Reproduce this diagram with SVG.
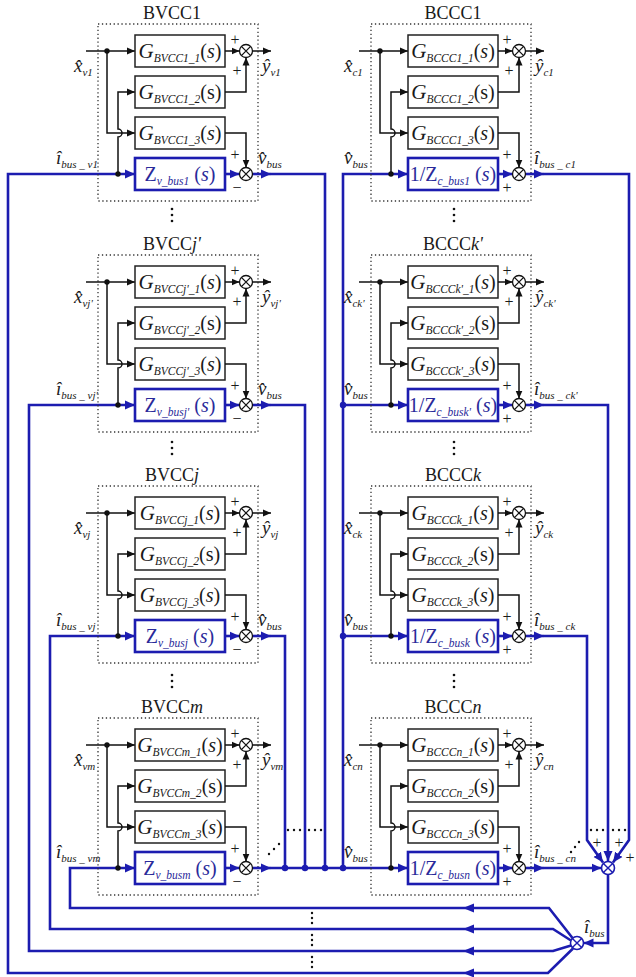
<svg xmlns="http://www.w3.org/2000/svg" xmlns:xlink="http://www.w3.org/1999/xlink" width="636" height="977" viewBox="0 0 636 977">
<style>
.wk{fill:none;stroke:#111;stroke-width:1.5}
.wb{fill:none;stroke:#1c1cb0;stroke-width:2.6}
.box{fill:#fff;stroke:#222;stroke-width:1.5}
.zbox{fill:#fff;stroke:#1c1cb0;stroke-width:2.6}
.dbox{fill:none;stroke:#333;stroke-width:1.3;stroke-dasharray:1.3 2.6}
.sum{fill:#fff;stroke:#111;stroke-width:1.3}
.sumb{fill:#fff;stroke:#1c1cb0;stroke-width:1.6}
.x{fill:none;stroke:#111;stroke-width:1.3}
.xb{fill:none;stroke:#1c1cb0;stroke-width:1.4}
text{font-family:"Liberation Serif","Times New Roman",serif;fill:#1a1a1a}
.title{font-size:18px;text-anchor:middle}
.gl{font-size:20px;text-anchor:middle}
.zl{fill:#2a2a9a}
.G{font-style:italic;font-size:21px}
.sb{font-style:italic;font-size:11.5px}
.i{font-style:italic}
.lb{font-size:19px;font-style:italic}
.ls{font-size:11px}
.sg{font-size:16px;text-anchor:middle}
.dk{fill:#111}
.db{fill:#1c1cb0}
</style>
<defs>
<marker id="ak" markerWidth="9" markerHeight="8" refX="8" refY="4" orient="auto" markerUnits="userSpaceOnUse"><path d="M0,0.5 L8,4 L0,7.5 z" fill="#111"/></marker>
<marker id="ab" markerWidth="11" markerHeight="10" refX="10" refY="5" orient="auto" markerUnits="userSpaceOnUse"><path d="M0,0.5 L10,5 L0,9.5 z" fill="#1c1cb0"/></marker>
<g id="frame">
<rect class="dbox" x="98" y="-27" width="160" height="177"/>
<path class="wk" d="M86,0 H135" marker-end="url(#ak)"/>
<path class="wk" d="M107,0 V82 H135" marker-end="url(#ak)"/>
<path class="wk" d="M118,123 V86 A4,4 0 0 0 118,78 V41 H135" marker-end="url(#ak)"/>
<rect class="box" x="135" y="-16" width="90" height="32"/>
<rect class="box" x="135" y="25" width="90" height="32"/>
<rect class="box" x="135" y="66" width="90" height="32"/>
<rect class="zbox" x="135" y="107" width="90" height="32"/>
<circle class="dk" cx="107" cy="0" r="2.7"/>
<circle class="dk" cx="118" cy="123" r="2.7"/>
<path class="wk" d="M225,0 H239.5" marker-end="url(#ak)"/>
<path class="wk" d="M252.5,0 H271" marker-end="url(#ak)"/>
<path class="wk" d="M225,41 H246 V6.5" marker-end="url(#ak)"/>
<path class="wk" d="M225,82 H246 V116.5" marker-end="url(#ak)"/>
<path class="wb" d="M225,123 H239.5" marker-end="url(#ab)"/>
<path class="wb" d="M252.5,123 H271" marker-end="url(#ab)"/>
<circle class="sum" cx="246" cy="0" r="6.5"/>
<path class="x" d="M241.4,-4.6 L250.6,4.6 M241.4,4.6 L250.6,-4.6"/>
<circle class="sum" cx="246" cy="123" r="6.5"/>
<path class="x" d="M241.4,118.4 L250.6,127.6 M241.4,127.6 L250.6,118.4"/>
</g>
</defs>
<rect width="636" height="977" fill="#fff"/>

<g id="connectors">
<path class="wb" d="M573,948.5 L548,973 H8 V174 H135" marker-end="url(#ab)"/>
<path class="wb" d="M571,945.5 L553,951 H29 V405 H135" marker-end="url(#ab)"/>
<path class="wb" d="M571,940.5 L553,929 H50 V636 H135" marker-end="url(#ab)"/>
<path class="wb" d="M572.5,938 L549,908 H70 V868 H135" marker-end="url(#ab)"/>
<g class="db">
<polygon points="463,973 474,968.5 474,977.5"/>
<polygon points="463,951 474,946.5 474,955.5"/>
<polygon points="463,929 474,924.5 474,933.5"/>
<polygon points="463,908 474,903.5 474,912.5"/>
</g>
<path class="wb" d="M271,174 H325 V868"/>
<path class="wb" d="M271,405 H305 V868"/>
<path class="wb" d="M271,636 H285 V868"/>
<path class="wb" d="M271,868 H408" marker-end="url(#ab)"/>
<path class="wb" d="M343,868 V174 H408" marker-end="url(#ab)"/>
<path class="wb" d="M343,405 H408" marker-end="url(#ab)"/>
<path class="wb" d="M343,636 H408" marker-end="url(#ab)"/>
<path class="wb" d="M544,174 H629 V840 L613,862.5" marker-end="url(#ab)"/>
<path class="wb" d="M544,405 H608 V861" marker-end="url(#ab)"/>
<path class="wb" d="M544,636 H587 V840 L603,862.5" marker-end="url(#ab)"/>
<path class="wb" d="M544,868 H601.5" marker-end="url(#ab)"/>
<path class="wb" d="M608,874.5 V943 H583.5" marker-end="url(#ab)"/>
<g class="db">
<circle cx="285" cy="868" r="3.2"/>
<circle cx="305" cy="868" r="3.2"/>
<circle cx="325" cy="868" r="3.2"/>
<circle cx="343" cy="868" r="3.2"/>
<circle cx="343" cy="405" r="3.2"/>
<circle cx="343" cy="636" r="3.2"/>
</g>
</g>

<g id="sum_total">
<circle class="sumb" cx="608" cy="868" r="6.5"/>
<path class="xb" d="M603.4,863.4 L612.6,872.6 M603.4,872.6 L612.6,863.4"/>
<text class="sg" x="597" y="848">+</text>
<text class="sg" x="619" y="848">+</text>
<text class="sg" x="630" y="863">+</text>
</g>
<g id="splitter">
<circle class="sumb" cx="577" cy="943" r="6.5"/>
<path class="xb" d="M572.4,938.4 L581.6,947.6 M572.4,947.6 L581.6,938.4"/>
<text class="lb" x="584" y="933">î<tspan class="ls" dy="4">bus</tspan></text>
</g>

<g id="ellipses" class="dk">
<circle cx="172" cy="209" r="1.3"/><circle cx="172" cy="215" r="1.3"/><circle cx="172" cy="221" r="1.3"/>
<circle cx="172" cy="442" r="1.3"/><circle cx="172" cy="448" r="1.3"/><circle cx="172" cy="454" r="1.3"/>
<circle cx="172" cy="675" r="1.3"/><circle cx="172" cy="681" r="1.3"/><circle cx="172" cy="687" r="1.3"/>
<circle cx="454" cy="209" r="1.3"/><circle cx="454" cy="215" r="1.3"/><circle cx="454" cy="221" r="1.3"/>
<circle cx="454" cy="442" r="1.3"/><circle cx="454" cy="448" r="1.3"/><circle cx="454" cy="454" r="1.3"/>
<circle cx="454" cy="675" r="1.3"/><circle cx="454" cy="681" r="1.3"/><circle cx="454" cy="687" r="1.3"/>
<circle cx="288" cy="830" r="1.2"/><circle cx="294" cy="830" r="1.2"/><circle cx="300" cy="830" r="1.2"/>
<circle cx="309" cy="830" r="1.2"/><circle cx="315" cy="830" r="1.2"/><circle cx="321" cy="830" r="1.2"/>
<circle cx="269" cy="854" r="1.2"/><circle cx="274" cy="849" r="1.2"/><circle cx="279" cy="844" r="1.2"/>
<circle cx="591" cy="830" r="1.2"/><circle cx="597" cy="830" r="1.2"/><circle cx="603" cy="830" r="1.2"/>
<circle cx="613" cy="830" r="1.2"/><circle cx="619" cy="830" r="1.2"/><circle cx="625" cy="830" r="1.2"/>
<circle cx="571" cy="852" r="1.2"/><circle cx="575" cy="847" r="1.2"/><circle cx="579" cy="842" r="1.2"/>
<circle cx="312" cy="913" r="1.2"/><circle cx="312" cy="918" r="1.2"/><circle cx="312" cy="923" r="1.2"/>
<circle cx="312" cy="935" r="1.2"/><circle cx="312" cy="940" r="1.2"/><circle cx="312" cy="945" r="1.2"/>
<circle cx="312" cy="957" r="1.2"/><circle cx="312" cy="962" r="1.2"/><circle cx="312" cy="967" r="1.2"/>
</g>

<!-- Left column -->
<g id="BVCC1" transform="translate(0,51)">
<use href="#frame" xlink:href="#frame"/>
<text class="title" x="172" y="-32">BVCC1</text>
<text class="gl" x="180" y="7"><tspan class="G">G</tspan><tspan class="sb" dy="4">BVCC1_1</tspan><tspan dy="-4">(<tspan class="i">s</tspan>)</tspan></text>
<text class="gl" x="180" y="48"><tspan class="G">G</tspan><tspan class="sb" dy="4">BVCC1_2</tspan><tspan dy="-4">(s)</tspan></text>
<text class="gl" x="180" y="89"><tspan class="G">G</tspan><tspan class="sb" dy="4">BVCC1_3</tspan><tspan dy="-4">(<tspan class="i">s</tspan>)</tspan></text>
<text class="gl zl" x="180" y="130">Z<tspan class="sb" dy="4">v_bus1</tspan><tspan dy="-4"> (<tspan class="i">s</tspan>)</tspan></text>
<text class="sg" x="235" y="-6">+</text><text class="sg" x="237" y="25">+</text><text class="sg" x="235" y="109">+</text><text class="sg" x="237" y="142">−</text>
<text class="lb" x="74" y="21">x&#x302;<tspan class="ls" dy="4">v1</tspan></text>
<text class="lb" x="262" y="21">ŷ<tspan class="ls" dy="4">v1</tspan></text>
<text class="lb" x="56" y="113">î<tspan class="ls" dy="4">bus _ v1</tspan></text>
<text class="lb" x="258" y="113">v&#x302;<tspan class="ls" dy="4">bus</tspan></text>
</g>

<g id="BVCCj_prime" transform="translate(0,282)">
<use href="#frame" xlink:href="#frame"/>
<text class="title" x="172" y="-32">BVCC<tspan class="i">j'</tspan></text>
<text class="gl" x="180" y="7"><tspan class="G">G</tspan><tspan class="sb" dy="4">BVCCj'_1</tspan><tspan dy="-4">(<tspan class="i">s</tspan>)</tspan></text>
<text class="gl" x="180" y="48"><tspan class="G">G</tspan><tspan class="sb" dy="4">BVCCj'_2</tspan><tspan dy="-4">(s)</tspan></text>
<text class="gl" x="180" y="89"><tspan class="G">G</tspan><tspan class="sb" dy="4">BVCCj'_3</tspan><tspan dy="-4">(<tspan class="i">s</tspan>)</tspan></text>
<text class="gl zl" x="180" y="130">Z<tspan class="sb" dy="4">v_busj'</tspan><tspan dy="-4"> (<tspan class="i">s</tspan>)</tspan></text>
<text class="sg" x="235" y="-6">+</text><text class="sg" x="237" y="25">+</text><text class="sg" x="235" y="109">+</text><text class="sg" x="237" y="142">−</text>
<text class="lb" x="74" y="21">x&#x302;<tspan class="ls" dy="4">vj'</tspan></text>
<text class="lb" x="262" y="21">ŷ<tspan class="ls" dy="4">vj'</tspan></text>
<text class="lb" x="56" y="113">î<tspan class="ls" dy="4">bus _ vj'</tspan></text>
<text class="lb" x="258" y="113">v&#x302;<tspan class="ls" dy="4">bus</tspan></text>
</g>

<g id="BVCCj" transform="translate(0,513)">
<use href="#frame" xlink:href="#frame"/>
<text class="title" x="172" y="-32">BVCC<tspan class="i">j</tspan></text>
<text class="gl" x="180" y="7"><tspan class="G">G</tspan><tspan class="sb" dy="4">BVCCj_1</tspan><tspan dy="-4">(<tspan class="i">s</tspan>)</tspan></text>
<text class="gl" x="180" y="48"><tspan class="G">G</tspan><tspan class="sb" dy="4">BVCCj_2</tspan><tspan dy="-4">(s)</tspan></text>
<text class="gl" x="180" y="89"><tspan class="G">G</tspan><tspan class="sb" dy="4">BVCCj_3</tspan><tspan dy="-4">(<tspan class="i">s</tspan>)</tspan></text>
<text class="gl zl" x="180" y="130">Z<tspan class="sb" dy="4">v_busj</tspan><tspan dy="-4"> (<tspan class="i">s</tspan>)</tspan></text>
<text class="sg" x="235" y="-6">+</text><text class="sg" x="237" y="25">+</text><text class="sg" x="235" y="109">+</text><text class="sg" x="237" y="142">−</text>
<text class="lb" x="74" y="21">x&#x302;<tspan class="ls" dy="4">vj</tspan></text>
<text class="lb" x="262" y="21">ŷ<tspan class="ls" dy="4">vj</tspan></text>
<text class="lb" x="56" y="113">î<tspan class="ls" dy="4">bus _ vj</tspan></text>
<text class="lb" x="258" y="113">v&#x302;<tspan class="ls" dy="4">bus</tspan></text>
</g>

<g id="BVCCm" transform="translate(0,745)">
<use href="#frame" xlink:href="#frame"/>
<text class="title" x="172" y="-32">BVCC<tspan class="i">m</tspan></text>
<text class="gl" x="180" y="7"><tspan class="G">G</tspan><tspan class="sb" dy="4">BVCCm_1</tspan><tspan dy="-4">(<tspan class="i">s</tspan>)</tspan></text>
<text class="gl" x="180" y="48"><tspan class="G">G</tspan><tspan class="sb" dy="4">BVCCm_2</tspan><tspan dy="-4">(s)</tspan></text>
<text class="gl" x="180" y="89"><tspan class="G">G</tspan><tspan class="sb" dy="4">BVCCm_3</tspan><tspan dy="-4">(<tspan class="i">s</tspan>)</tspan></text>
<text class="gl zl" x="180" y="130">Z<tspan class="sb" dy="4">v_busm</tspan><tspan dy="-4"> (<tspan class="i">s</tspan>)</tspan></text>
<text class="sg" x="235" y="-6">+</text><text class="sg" x="237" y="25">+</text><text class="sg" x="235" y="109">+</text><text class="sg" x="237" y="142">−</text>
<text class="lb" x="74" y="21">x&#x302;<tspan class="ls" dy="4">vm</tspan></text>
<text class="lb" x="262" y="21">ŷ<tspan class="ls" dy="4">vm</tspan></text>
<text class="lb" x="56" y="113">î<tspan class="ls" dy="4">bus _ vm</tspan></text>
</g>

<!-- Right column -->
<g id="BCCC1" transform="translate(0,51)">
<use href="#frame" xlink:href="#frame" x="273"/>
<text class="title" x="453" y="-32">BCCC1</text>
<text class="gl" x="453" y="7"><tspan class="G">G</tspan><tspan class="sb" dy="4">BCCC1_1</tspan><tspan dy="-4">(<tspan class="i">s</tspan>)</tspan></text>
<text class="gl" x="453" y="48"><tspan class="G">G</tspan><tspan class="sb" dy="4">BCCC1_2</tspan><tspan dy="-4">(s)</tspan></text>
<text class="gl" x="453" y="89"><tspan class="G">G</tspan><tspan class="sb" dy="4">BCCC1_3</tspan><tspan dy="-4">(<tspan class="i">s</tspan>)</tspan></text>
<text class="gl zl" x="453" y="130">1/Z<tspan class="sb" dy="4">c_bus1</tspan><tspan dy="-4"> (<tspan class="i">s</tspan>)</tspan></text>
<text class="sg" x="507" y="-6">+</text><text class="sg" x="509" y="25">+</text><text class="sg" x="507" y="109">+</text><text class="sg" x="507" y="142">+</text>
<text class="lb" x="344" y="21">x&#x302;<tspan class="ls" dy="4">c1</tspan></text>
<text class="lb" x="535" y="21">ŷ<tspan class="ls" dy="4">c1</tspan></text>
<text class="lb" x="344" y="113">v&#x302;<tspan class="ls" dy="4">bus</tspan></text>
<text class="lb" x="534" y="113">î<tspan class="ls" dy="4">bus _ c1</tspan></text>
</g>

<g id="BCCCk_prime" transform="translate(0,282)">
<use href="#frame" xlink:href="#frame" x="273"/>
<text class="title" x="453" y="-32">BCCC<tspan class="i">k'</tspan></text>
<text class="gl" x="453" y="7"><tspan class="G">G</tspan><tspan class="sb" dy="4">BCCCk'_1</tspan><tspan dy="-4">(<tspan class="i">s</tspan>)</tspan></text>
<text class="gl" x="453" y="48"><tspan class="G">G</tspan><tspan class="sb" dy="4">BCCCk'_2</tspan><tspan dy="-4">(s)</tspan></text>
<text class="gl" x="453" y="89"><tspan class="G">G</tspan><tspan class="sb" dy="4">BCCCk'_3</tspan><tspan dy="-4">(<tspan class="i">s</tspan>)</tspan></text>
<text class="gl zl" x="453" y="130">1/Z<tspan class="sb" dy="4">c_busk'</tspan><tspan dy="-4"> (<tspan class="i">s</tspan>)</tspan></text>
<text class="sg" x="507" y="-6">+</text><text class="sg" x="509" y="25">+</text><text class="sg" x="507" y="109">+</text><text class="sg" x="507" y="142">+</text>
<text class="lb" x="344" y="21">x&#x302;<tspan class="ls" dy="4">ck'</tspan></text>
<text class="lb" x="535" y="21">ŷ<tspan class="ls" dy="4">ck'</tspan></text>
<text class="lb" x="344" y="113">v&#x302;<tspan class="ls" dy="4">bus</tspan></text>
<text class="lb" x="534" y="113">î<tspan class="ls" dy="4">bus _ ck'</tspan></text>
</g>

<g id="BCCCk" transform="translate(0,513)">
<use href="#frame" xlink:href="#frame" x="273"/>
<text class="title" x="453" y="-32">BCCC<tspan class="i">k</tspan></text>
<text class="gl" x="453" y="7"><tspan class="G">G</tspan><tspan class="sb" dy="4">BCCCk_1</tspan><tspan dy="-4">(<tspan class="i">s</tspan>)</tspan></text>
<text class="gl" x="453" y="48"><tspan class="G">G</tspan><tspan class="sb" dy="4">BCCCk_2</tspan><tspan dy="-4">(s)</tspan></text>
<text class="gl" x="453" y="89"><tspan class="G">G</tspan><tspan class="sb" dy="4">BCCCk_3</tspan><tspan dy="-4">(<tspan class="i">s</tspan>)</tspan></text>
<text class="gl zl" x="453" y="130">1/Z<tspan class="sb" dy="4">c_busk</tspan><tspan dy="-4"> (<tspan class="i">s</tspan>)</tspan></text>
<text class="sg" x="507" y="-6">+</text><text class="sg" x="509" y="25">+</text><text class="sg" x="507" y="109">+</text><text class="sg" x="507" y="142">+</text>
<text class="lb" x="344" y="21">x&#x302;<tspan class="ls" dy="4">ck</tspan></text>
<text class="lb" x="535" y="21">ŷ<tspan class="ls" dy="4">ck</tspan></text>
<text class="lb" x="344" y="113">v&#x302;<tspan class="ls" dy="4">bus</tspan></text>
<text class="lb" x="534" y="113">î<tspan class="ls" dy="4">bus _ ck</tspan></text>
</g>

<g id="BCCCn" transform="translate(0,745)">
<use href="#frame" xlink:href="#frame" x="273"/>
<text class="title" x="453" y="-32">BCCC<tspan class="i">n</tspan></text>
<text class="gl" x="453" y="7"><tspan class="G">G</tspan><tspan class="sb" dy="4">BCCCn_1</tspan><tspan dy="-4">(<tspan class="i">s</tspan>)</tspan></text>
<text class="gl" x="453" y="48"><tspan class="G">G</tspan><tspan class="sb" dy="4">BCCCn_2</tspan><tspan dy="-4">(s)</tspan></text>
<text class="gl" x="453" y="89"><tspan class="G">G</tspan><tspan class="sb" dy="4">BCCCn_3</tspan><tspan dy="-4">(<tspan class="i">s</tspan>)</tspan></text>
<text class="gl zl" x="453" y="130">1/Z<tspan class="sb" dy="4">c_busn</tspan><tspan dy="-4"> (<tspan class="i">s</tspan>)</tspan></text>
<text class="sg" x="507" y="-6">+</text><text class="sg" x="509" y="25">+</text><text class="sg" x="507" y="109">+</text><text class="sg" x="507" y="142">+</text>
<text class="lb" x="344" y="21">x&#x302;<tspan class="ls" dy="4">cn</tspan></text>
<text class="lb" x="535" y="21">ŷ<tspan class="ls" dy="4">cn</tspan></text>
<text class="lb" x="344" y="113">v&#x302;<tspan class="ls" dy="4">bus</tspan></text>
<text class="lb" x="534" y="113">î<tspan class="ls" dy="4">bus _ cn</tspan></text>
</g>
</svg>
